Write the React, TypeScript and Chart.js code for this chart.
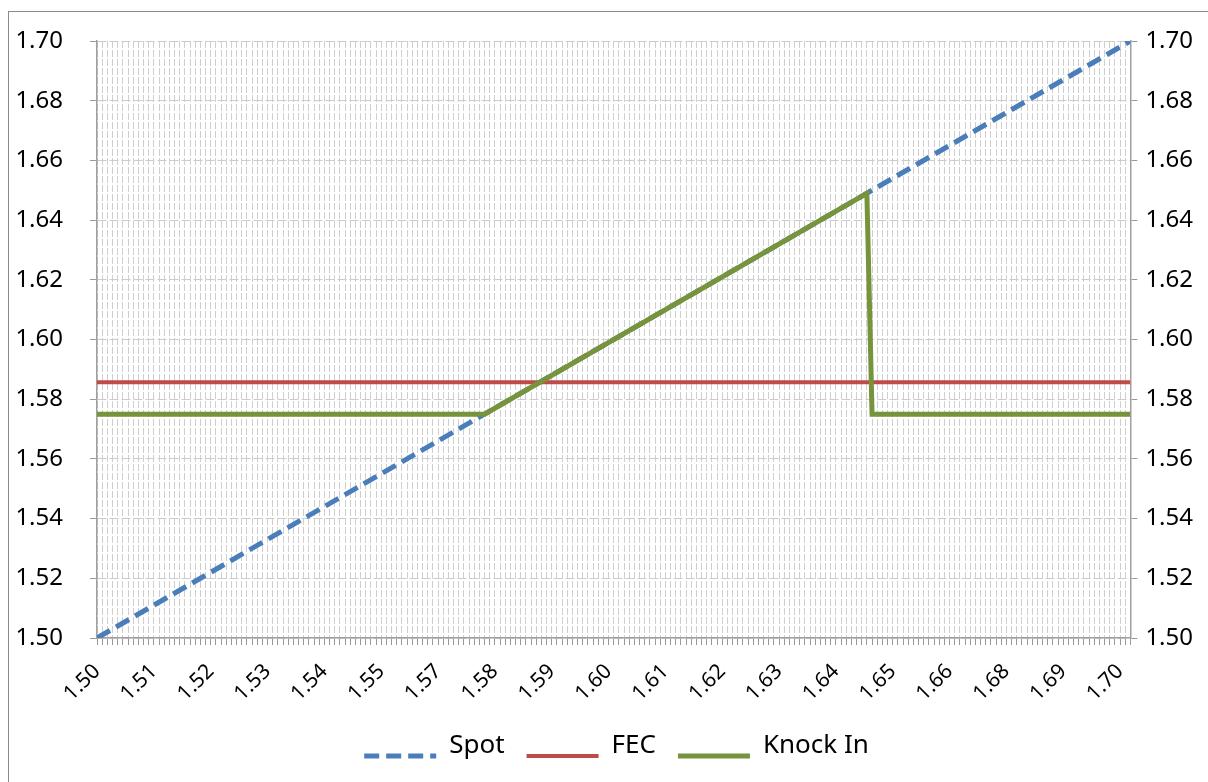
import React, { useEffect, useRef } from 'react';
import { Chart, registerables } from 'chart.js';

Chart.register(...registerables);

// ---- data ----
const SPOT_X = [1.5, 1.7];
const SPOT_Y = [1.5, 1.7];
const FEC_X = [1.5, 1.7];
const FEC_Y = [1.5857, 1.5857];
const KNOCK_X = [1.5, 1.575, 1.649, 1.65, 1.7];
const KNOCK_Y = [1.575, 1.575, 1.649, 1.575, 1.575];

const X_MIN = 1.5;
const X_MAX = 1.7;
const X_STEP = 0.001;
const X_LABEL_EVERY = 11;
const X_TICK_LABELS = [
  '1.50', '1.51', '1.52', '1.53', '1.54', '1.55', '1.57', '1.58', '1.59', '1.60',
  '1.61', '1.62', '1.63', '1.64', '1.65', '1.66', '1.68', '1.69', '1.70',
];
const Y_MIN = 1.5;
const Y_MAX = 1.7;
const Y_STEP = 0.02;

const SERIES_NAMES = ['Spot', 'FEC', 'Knock In'];
const COLORS = ['#4a7ebb', '#be4b48', '#77933c'];

const FONT = "'Noto Sans', 'DejaVu Sans', sans-serif";

const toPoints = (xs: number[], ys: number[]) => xs.map((x, i) => ({ x, y: ys[i] }));

function legendSample(color: string, lw: number, dash: number[]) {
  const c = document.createElement('canvas');
  c.width = 74;
  c.height = 44;
  const ctx = c.getContext('2d')!;
  ctx.strokeStyle = color;
  ctx.lineWidth = lw;
  ctx.setLineDash(dash);
  ctx.beginPath();
  ctx.moveTo(1, 32);
  ctx.lineTo(73, 32);
  ctx.stroke();
  return c;
}

const legendShift = {
  id: 'legendShift',
  afterLayout(chart: any) {
    const lg = chart.legend;
    if (lg) {
      lg.left += 8;
      lg.right += 8;
    }
  },
};

export default function App() {
  const ref = useRef<HTMLCanvasElement | null>(null);

  useEffect(() => {
    if (!ref.current) return;
    Chart.defaults.font.family = FONT;
    Chart.defaults.font.size = 21;
    Chart.defaults.color = '#000';
    const samples = [
      legendSample(COLORS[0], 5, [15, 7]),
      legendSample(COLORS[1], 4, []),
      legendSample(COLORS[2], 5, []),
    ];
    const yFont = { family: FONT, size: 24 };
    const xFont = { family: FONT, size: 21 };
    const chart = new Chart(ref.current, {
      type: 'line',
      data: {
        datasets: [
          {
            label: SERIES_NAMES[0],
            data: toPoints(SPOT_X, SPOT_Y),
            borderColor: COLORS[0],
            backgroundColor: COLORS[0],
            borderWidth: 5,
            borderDash: [15, 7],
            pointRadius: 0,
            order: 2,
            yAxisID: 'y',
          },
          {
            label: SERIES_NAMES[1],
            data: toPoints(FEC_X, FEC_Y),
            borderColor: COLORS[1],
            backgroundColor: COLORS[1],
            borderWidth: 4,
            pointRadius: 0,
            order: 1,
            yAxisID: 'y',
          },
          {
            label: SERIES_NAMES[2],
            data: toPoints(KNOCK_X, KNOCK_Y),
            borderColor: COLORS[2],
            backgroundColor: COLORS[2],
            borderWidth: 5,
            pointRadius: 0,
            order: 0,
            yAxisID: 'y',
          },
        ],
      },
      options: {
        animation: false,
        responsive: false,
        font: { family: FONT, size: 21 },
        layout: { padding: { left: 7, right: 7, top: 29, bottom: 13 } },
        plugins: {
          tooltip: { enabled: false },
          legend: {
            position: 'bottom',
            labels: {
              usePointStyle: true,
              pointStyleWidth: 72,
              padding: 22,
              color: '#000',
              font: { family: FONT, size: 26 },
              sort: (a: any, b: any) => a.datasetIndex - b.datasetIndex,
              generateLabels: (ch: any) => {
                const items = Chart.defaults.plugins.legend.labels.generateLabels(ch);
                return items.map((it: any) => ({ ...it, pointStyle: samples[it.datasetIndex] }));
              },
            },
          },
        },
        scales: {
          x: {
            type: 'linear',
            min: X_MIN,
            max: X_MAX,
            afterFit: (s: any) => {
              s.height = 73;
            },
            grid: {
              color: '#cfcfcf',
              lineWidth: 1,
              tickLength: 7,
              tickColor: '#9a9a9a',
              tickWidth: 1,
            },
            border: { display: true, color: '#a0a0a0', width: 1.5, dash: [7, 2] },
            ticks: {
              stepSize: X_STEP,
              autoSkip: false,
              minRotation: 45,
              maxRotation: 45,
              padding: 14,
              color: '#000',
              font: xFont,
              callback: (_v: any, index: number) =>
                index % X_LABEL_EVERY === 0 ? X_TICK_LABELS[index / X_LABEL_EVERY] ?? '' : '',
            },
          },
          y: {
            position: 'left',
            min: Y_MIN,
            max: Y_MAX,
            afterFit: (s: any) => {
              s.width = 81;
              s.paddingTop = 0;
              s.paddingBottom = 0;
            },
            grid: {
              color: '#cccccc',
              lineWidth: 1,
              tickLength: 7,
              tickColor: '#9a9a9a',
            },
            border: { display: true, color: '#a0a0a0', width: 1.5, dash: [9, 3] },
            ticks: {
              stepSize: Y_STEP,
              padding: 27,
              color: '#000',
              font: yFont,
              callback: (v: any) => Number(v).toFixed(2),
            },
          },
          y2: {
            position: 'right',
            min: Y_MIN,
            max: Y_MAX,
            grid: {
              drawOnChartArea: false,
              tickLength: 7,
              tickColor: '#9a9a9a',
            },
            border: { display: true, color: '#a0a0a0', width: 1.5 },
            ticks: {
              stepSize: Y_STEP,
              padding: 8,
              color: '#000',
              font: yFont,
              callback: (v: any) => Number(v).toFixed(2),
            },
          },
        },
      },
      plugins: [legendShift],
    } as any);
    return () => chart.destroy();
  }, []);

  return (
    <div
      style={{
        position: 'absolute',
        left: 8,
        top: 11,
        width: 1200,
        height: 771,
        boxSizing: 'border-box',
        borderLeft: '1px solid #8a8a8a',
        borderTop: '1px solid #8a8a8a',
        background: '#fff',
      }}
    >
      <canvas ref={ref} width={1199} height={770} style={{ display: 'block', width: 1199, height: 770 }} />
    </div>
  );
}
